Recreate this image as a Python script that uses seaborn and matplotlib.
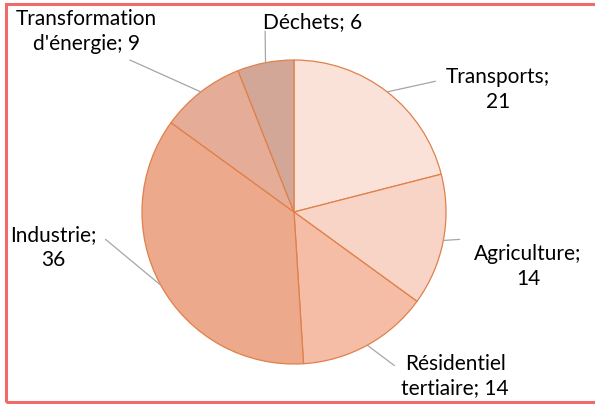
import numpy as np
import seaborn as sns
import matplotlib.pyplot as plt
from matplotlib.patches import Rectangle

# parts of emissions, starting at 12 o'clock, clockwise
categories = ["Transports", "Agriculture", "Résidentiel tertiaire", "Industrie",
              "Transformation d'énergie", "Déchets"]
values = [21, 14, 14, 36, 9, 6]
label_texts = ["Transports;\n21", "Agriculture;\n14", "Résidentiel\ntertiaire; 14",
               "Industrie;\n36", "Transformation\nd'énergie; 9", "Déchets; 6"]
colors = ["#FAE2D9", "#F8D4C7", "#F5BDA6", "#ECA98C", "#E5AD97", "#D3A797"]

sns.set_theme(style="white")
plt.rcParams['font.family'] = ['Lato', 'DejaVu Sans']

fig = plt.figure(figsize=(5.95, 4.04), dpi=100)
ax = fig.add_axes([0, 0, 1, 1])

wedges, _ = ax.pie(values, colors=colors, startangle=90, counterclock=False,
                   wedgeprops=dict(edgecolor="#E0804A", linewidth=0.9))

# 1 unit = 152 px, centre at (294, 212) px
ax.set_xlim(-294 / 152, (595 - 294) / 152)
ax.set_ylim(-(404 - 212) / 152, 212 / 152)
ax.set_aspect('auto')
ax.axis('off')

# text positions (unit coords) and line end points near the text
text_pos = [(1.34, 0.806), (1.54, -0.36), (1.06, -1.08), (-1.585, -0.234), (-1.365, 1.19), (0.125, 1.25)]
line_end = [(0.93, 0.86), (1.09, -0.18), (0.66, -1.01), (-1.24, -0.18), (-1.08, 1.00), (-0.19, 1.19)]

for w, txt, tp, le in zip(wedges, label_texts, text_pos, line_end):
    mid = np.deg2rad((w.theta1 + w.theta2) / 2)
    x0, y0 = np.cos(mid), np.sin(mid)
    ax.plot([x0, le[0]], [y0, le[1]], color="#A6A6A6", lw=0.9, clip_on=False)
    ax.text(tp[0], tp[1], txt, ha="center", va="center", fontsize=15,
            color="black", linespacing=1.3)

# red frame, open on the right (runs past the image edge)
fig.patches.append(Rectangle((5.5 / 595, 2.5 / 404), 600 / 595, 397.5 / 404,
                             transform=fig.transFigure, fill=False,
                             edgecolor="#F06A6A", linewidth=2.2))

plt.savefig("out.png", dpi=100)
